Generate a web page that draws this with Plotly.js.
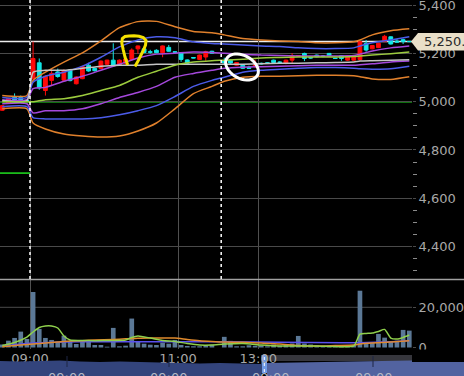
<!DOCTYPE html>
<html><head><meta charset="utf-8">
<script src="https://cdn.plot.ly/plotly-3.0.1.min.js"></script>
<style>html,body{margin:0;padding:0;background:#000;}#chart{width:464px;height:376px;}</style>
</head><body><div id="chart"></div>
<script>
const W = 464, H = 376;

// ---- candles (bar index: previous day -5..-1, morning 0..29, afternoon 31..61) ----
const candleX = [-5,-4,-3,-2,-1,
  0,1,2,3,4,5,6,7,8,9,10,11,12,13,14,15,16,17,18,19,20,21,22,23,24,25,26,27,28,29,
  31,32,33,34,35,36,37,38,39,40,41,42,43,44,45,46,47,48,49,50,51,52,53,54,55,56,57,58,59,60,61];
const openP  = [4965,4995,5022,5018,5006,
  5096,5162,5047,5089,5124,5090,5131,5075,5096,5152,5139,5138,5156,5173,5152,5160,5176,5220,5220,5208,5214,5204,5226,5208,5204,5174,5184,5176,5186,5210,
  5170,5173,5152,5152,5143,5150,5160,5162,5173,5165,5159,5173,5190,5201,5184,5194,5190,5201,5181,5191,5173,5173,5175,5243,5220,5225,5250,5270,5252,5258,5251];
const highP  = [4986,5016,5035,5026,5010,
  5250,5180,5110,5139,5138,5135,5135,5106,5150,5162,5142,5172,5175,5243,5176,5182,5222,5234,5225,5216,5218,5234,5236,5210,5206,5176,5185,5196,5212,5212,
  5183,5175,5165,5153,5150,5175,5163,5164,5175,5168,5175,5202,5194,5204,5186,5196,5194,5203,5182,5193,5192,5193,5252,5257,5236,5245,5278,5272,5261,5262,5252];
const lowP   = [4963,4993,4998,5000,5000,
  5090,5050,5026,5068,5100,5085,5085,5072,5094,5125,5126,5136,5154,5148,5150,5155,5170,5200,5202,5200,5202,5185,5208,5204,5166,5156,5181,5174,5170,5200,
  5153,5158,5150,5136,5137,5140,5155,5158,5160,5162,5156,5160,5188,5169,5180,5185,5185,5189,5179,5170,5170,5170,5172,5208,5218,5223,5248,5238,5245,5240,5248];
const closeP = [4984,5014,5008,5005,5004,
  5180,5058,5106,5118,5105,5128,5088,5103,5146,5128,5129,5169,5173,5150,5173,5178,5215,5232,5205,5206,5204,5232,5210,5206,5176,5160,5182,5194,5208,5202,
  5162,5161,5163,5139,5139,5153,5158,5160,5163,5164,5173,5191,5192,5180,5182,5187,5189,5191,5180,5180,5190,5191,5250,5215,5234,5243,5272,5240,5248,5250,5250];
const volume = [1500,3400,4750,7900,4250,
  27600,9250,4750,3750,2900,5900,3250,1750,3750,2900,1250,1250,400,9750,600,900,14400,3100,1900,1400,1250,2400,1900,3750,1250,750,600,600,1100,1400,
  5300,3300,600,600,1100,800,1000,600,1500,900,1200,2000,5750,2000,1500,1000,600,900,700,800,1000,1200,28250,2400,2400,6750,4900,3100,3400,8750,8400];

// ---- bands (at these bar indices) ----
const bandX = [-5,-1,0,2,5,8,11,14,17,20,23,26,29,31,34,37,40,43,46,49,52,53,55,58,61];
const upper3 = [5026,5026,5089,5123,5165,5203,5253,5308,5333,5334,5312,5292,5287,5278,5263,5257,5253,5250,5245,5245,5249,5257,5278,5295,5303];
const upper2 = [5018,5018,5081,5106,5123,5148,5185,5228,5257,5270,5266,5249,5242,5240,5236,5232,5230,5224,5221,5221,5224,5232,5245,5257,5270];
const upper1 = [5009,5009,5055,5060,5085,5106,5131,5156,5182,5198,5202,5207,5205,5202,5198,5194,5192,5190,5190,5190,5192,5198,5211,5224,5232];
const midMA  = [5000,5000,5000,5009,5013,5026,5047,5068,5102,5127,5152,5165,5171,5173,5177,5182,5184,5186,5186,5186,5188,5190,5194,5200,5207];
const vwapL  = [5005,5005,5123,5131,5131,5139,5148,5152,5152,5156,5156,5156,5156,5156,5156,5158,5160,5160,5162,5163,5165,5169,5171,5173,5175];
const lower1 = [4992,4992,4954,4963,4963,4971,4992,5018,5039,5064,5102,5118,5131,5139,5144,5146,5148,5150,5152,5152,5152,5154,5158,5165,5169];
const lower2 = [4980,4980,4934,4929,4929,4929,4934,4946,4963,4984,5022,5064,5089,5102,5123,5131,5135,5139,5142,5142,5139,5137,5135,5137,5148];
const lower3 = [4971,4971,4912,4887,4866,4858,4854,4858,4879,4912,4971,5034,5064,5085,5102,5106,5106,5108,5110,5110,5108,5104,5095,5093,5104];

// ---- volume averages ----
const volLineX = [-5,-3,-1,0,1,2,3,4,5,6,8,10,13,15,16,17,19,21,23,25,27,29,31,34,37,40,43,46,49,52,53,54,55,56,57,58,59,60,61];
const volShort = [1000,2500,5200,7700,9950,10700,10700,9700,5700,3700,3500,3400,3500,3700,5000,5700,4700,3500,3000,2000,1250,1250,1700,2000,1250,750,750,750,500,750,6700,7000,7200,8000,9000,4700,4200,5000,6200];
const volLongX = [-5,-3,-1,0,2,4,6,8,10,13,15,17,19,21,23,25,27,29,31,34,37,40,43,46,49,52,53,55,58,61];
const volLong  = [400,1000,1500,1750,2200,2700,3200,3400,3700,4000,4300,4600,4700,4700,4700,4000,3400,3000,2700,2600,2200,1750,1000,750,1000,1250,1750,2200,2700,3400];
const volAvgX  = [-5,-1,0,5,10,20,31,40,50,53,58,61];
const volAvg   = [750,2000,2200,2700,2900,2900,2900,2600,2400,2400,2900,3400];

// ---- ticks / levels ----
const timeTickVals = [-0.5, 23.5, 36.5];
const timeTickText = ['09:00', '11:00', '13:00'];
const sessionBreaks = [-0.5, 30.5];
const lastPrice = 5250;
const lastPriceText = '5,250.';
const refLevel = 5000;
const limitLevel = 4704;

// ---- navigator strip ----
const navLeftX = [0,20,40,60,80,100,120,140,160,180,200,220,240,261.5];
const navLeftY = [15,14.5,15,15.5,14.5,14,14.5,14,13.5,13,12.5,13,12.5,12];
const navRightX = [267,290,320,350,380,410,440,464];
const navRightY = [13,13.5,14,14.5,15,15.5,16,16.5];
const navLabelX = [66,168,270,373];
const navLabelText = ['09:00','09:00','09:00','09:00'];

// pixel -> paper helpers for decorations
const px = x => x / W;
const py = y => 1 - y / H;
function pathFrom(pts, close) {
  return pts.map((p, i) => (i ? 'L' : 'M') + px(p[0]).toFixed(4) + ',' + py(p[1]).toFixed(4)).join(' ') + (close ? ' Z' : '');
}
function ellipse(cx, cy, a, b, deg) {
  const r = deg * Math.PI / 180, pts = [];
  for (let k = 0; k <= 40; k++) {
    const t = k / 40 * 2 * Math.PI;
    pts.push([cx + a * Math.cos(t) * Math.cos(r) - b * Math.sin(t) * Math.sin(r),
              cy + a * Math.cos(t) * Math.sin(r) + b * Math.sin(t) * Math.cos(r)]);
  }
  return pathFrom(pts, true);
}

const lineTrace = (x, y, color, xa, ya) => ({type: 'scatter', mode: 'lines', x: x, y: y, xaxis: xa || 'x', yaxis: ya || 'y',
  line: {color: color, width: 1.5, shape: 'spline', smoothing: 0.6}, hoverinfo: 'skip'});

const traces = [
  lineTrace(bandX, upper3, '#e0802c'),
  lineTrace(bandX, lower3, '#e0802c'),
  lineTrace(bandX, upper2, '#4b5be8'),
  lineTrace(bandX, lower2, '#4b5be8'),
  lineTrace(bandX, upper1, '#a548dc'),
  lineTrace(bandX, lower1, '#a548dc'),
  lineTrace(bandX, vwapL, '#c4c4c4'),
  lineTrace(bandX, midMA, '#9ccb3e'),
  {type: 'candlestick', x: candleX, open: openP, high: highP, low: lowP, close: closeP, xaxis: 'x', yaxis: 'y',
   increasing: {line: {color: '#ff0a0a', width: 1}, fillcolor: '#ff0a0a'},
   decreasing: {line: {color: '#12e6e6', width: 1}, fillcolor: '#12e6e6'},
   whiskerwidth: 0, hoverinfo: 'skip'},
  {type: 'bar', x: candleX, y: volume, xaxis: 'x2', yaxis: 'y2', width: 0.76,
   marker: {color: '#5b7896', line: {width: 0}}, hoverinfo: 'skip'},
  lineTrace(volAvgX, volAvg, '#5a50f0', 'x2', 'y2'),
  lineTrace(volLongX, volLong, '#e08a2c', 'x2', 'y2'),
  lineTrace(volLineX, volShort, '#8fd04c', 'x2', 'y2'),
  {type: 'scatter', mode: 'lines', x: navLeftX, y: navLeftY, xaxis: 'x3', yaxis: 'y3', fill: 'tozeroy',
   fillcolor: '#33447c', line: {width: 0, color: '#33447c'}, hoverinfo: 'skip'},
  {type: 'scatter', mode: 'lines', x: navRightX, y: navRightY, xaxis: 'x3', yaxis: 'y3', fill: 'tozeroy',
   fillcolor: '#5263a0', line: {width: 0, color: '#5263a0'}, hoverinfo: 'skip'}
];

const xDom = [0, 412 / W];
const xRange = [-5.365, 61.44];
const priceTop = 1 - 279 / H;
const shapes = [
  // level lines
  {type: 'line', xref: 'paper', yref: 'y', x0: 0, x1: xDom[1], y0: refLevel, y1: refLevel, line: {color: '#1fe01f', width: 1.5}, layer: 'below'},
  {type: 'line', xref: 'x', yref: 'y', x0: xRange[0], x1: sessionBreaks[0], y0: limitLevel, y1: limitLevel, line: {color: '#1fe01f', width: 1.5}, layer: 'below'},
  {type: 'line', xref: 'paper', yref: 'y', x0: 0, x1: xDom[1], y0: lastPrice, y1: lastPrice, line: {color: '#ececec', width: 1.5}, layer: 'below'},
  // volume 20,000 grid line
  {type: 'line', xref: 'paper', yref: 'y2', x0: 0, x1: xDom[1], y0: 20000, y1: 20000, line: {color: '#4a4a4a', width: 1}, layer: 'below'},
  // pane separator
  {type: 'line', xref: 'paper', yref: 'paper', x0: 0, x1: 1, y0: py(279.5), y1: py(279.5), line: {color: '#a0a0a0', width: 1.5}},
  // session break dotted lines
  ...sessionBreaks.map(b => ({type: 'line', xref: 'x', yref: 'paper', x0: b, x1: b, y0: priceTop, y1: 1,
    line: {color: '#ffffff', width: 1.5, dash: 'dot'}})),
  // last price tag
  {type: 'path', xref: 'paper', yref: 'paper', path: pathFrom([[411, 41.6], [418, 33], [464, 33], [464, 50.5], [418, 50.5]], true),
   fillcolor: '#e9dfc8', line: {width: 0}},
  // hand-drawn marks
  {type: 'path', xref: 'paper', yref: 'paper',
   path: pathFrom([[127.7, 65], [125, 57], [123.3, 50], [121.8, 43], [122.3, 38.5], [125, 36.5], [129, 36], [134, 35.8], [139, 36.3], [143.3, 37.5], [146, 40.5], [145.5, 45], [143.5, 50], [141, 55], [138, 61], [135, 66.5]], false),
   line: {color: '#f4e000', width: 3}},
  {type: 'path', xref: 'paper', yref: 'paper', path: ellipse(242, 67, 17.5, 11.5, 28), line: {color: '#ffffff', width: 3}},
  // cover under volume "0" label
  {type: 'rect', xref: 'paper', yref: 'paper', x0: px(412), x1: 1, y0: py(362), y1: py(349.5), fillcolor: '#000', line: {width: 0}},
  // navigator: upper band on the right, handle (behind the time labels)
  {type: 'rect', xref: 'paper', yref: 'paper', x0: px(263), x1: 1, y0: py(361), y1: py(355), fillcolor: '#36363c', line: {width: 0}, layer: 'below'},
  {type: 'rect', xref: 'paper', yref: 'paper', x0: px(261.5), x1: px(267), y0: py(373), y1: py(355), fillcolor: '#6f9ae6', line: {width: 0}, layer: 'below'},
  {type: 'line', xref: 'paper', yref: 'paper', x0: px(264.3), x1: px(264.3), y0: py(372), y1: py(356), line: {color: '#ffffff', width: 1, dash: 'dot'}, layer: 'below'},
  ...[67, 169, 373].map(t => ({type: 'line', xref: 'paper', yref: 'paper', x0: px(t), x1: px(t), y0: py(367), y1: py(356), line: {color: '#1e2644', width: 1}}))
];

const annotations = [
  {xref: 'paper', yref: 'paper', x: px(422), y: py(41.8), xanchor: 'left', yanchor: 'middle', text: lastPriceText, showarrow: false,
   font: {family: 'DejaVu Sans', size: 13, color: '#2a2a2a'}},
  ...navLabelX.map((x, i) => ({xref: 'x3', yref: 'paper', x: x, y: py(367.5), xanchor: 'center', yanchor: 'top', text: navLabelText[i],
    showarrow: false, font: {family: 'DejaVu Sans', size: 13, color: '#b4b8c4'}}))
];

const layout = {
  width: W, height: H,
  margin: {l: 0, r: 0, t: 0, b: 0, pad: 0},
  paper_bgcolor: '#000', plot_bgcolor: 'rgba(0,0,0,0)',
  showlegend: false, hovermode: false,
  boxgap: 0.12,
  font: {family: 'DejaVu Sans', size: 13, color: '#a8a8a8'},
  xaxis: {domain: xDom, range: xRange, anchor: 'y', tickvals: timeTickVals, showticklabels: false, ticks: '',
    showgrid: true, gridcolor: '#505050', gridwidth: 1, zeroline: false, showline: false, rangeslider: {visible: false}, fixedrange: true},
  yaxis: {domain: [priceTop, 1], range: [4264.2, 5422.8], side: 'right', anchor: 'x', tick0: 4400, dtick: 200, tickformat: ',d',
    showgrid: true, gridcolor: '#4a4a4a', gridwidth: 1, zeroline: false, showline: false, ticks: 'outside', ticklen: 3, tickcolor: '#4a4a4a',
    ticklabeloverflow: 'allow',
    tickfont: {family: 'DejaVu Sans', size: 13, color: '#a8a8a8'},
    minor: {dtick: 50, ticks: 'outside', ticklen: 4, tickcolor: '#8a8a8a', showgrid: false}, fixedrange: true},
  xaxis2: {domain: xDom, range: xRange, anchor: 'y2', tickvals: timeTickVals, ticktext: timeTickText, ticks: '',
    showgrid: true, gridcolor: '#505050', gridwidth: 1, zeroline: false, showline: false,
    tickfont: {family: 'DejaVu Sans', size: 13, color: '#a8a8a8'}, fixedrange: true},
  yaxis2: {domain: [1 - 349 / H, 1 - 280 / H], range: [-746, 33581], side: 'right', anchor: 'x2', tickvals: [0, 20000], ticktext: ['0', '20,000'],
    showgrid: false, zeroline: false, showline: false, ticks: 'outside', ticklen: 3, tickcolor: '#4a4a4a',
    ticklabeloverflow: 'allow',
    tickfont: {family: 'DejaVu Sans', size: 13, color: '#a8a8a8'}, fixedrange: true},
  xaxis3: {domain: [0, 1], range: [0, W], anchor: 'y3', visible: false, fixedrange: true},
  yaxis3: {domain: [0, 18 / H], range: [0, 18], visible: false, fixedrange: true},
  shapes: shapes,
  annotations: annotations
};

Plotly.newPlot('chart', traces, layout, {staticPlot: true, displayModeBar: false});
</script>
</body></html>
